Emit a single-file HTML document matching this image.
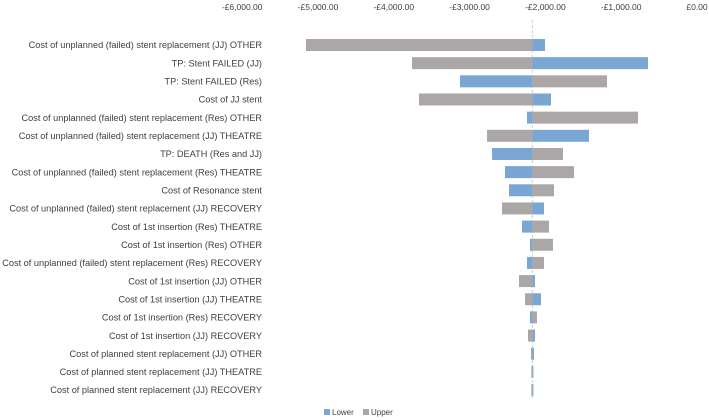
<!DOCTYPE html>
<html><head><meta charset="utf-8"><style>
body{margin:0;background:#fff;font-family:"Liberation Sans",sans-serif;}
svg{display:block}
text{font-family:"Liberation Sans",sans-serif;fill:#404040}
</style></head><body>
<svg id="chart" width="709" height="420" viewBox="0 0 709 420"></svg>
<script>
const categories=["Cost of unplanned (failed) stent replacement (JJ) OTHER","TP: Stent FAILED (JJ)","TP: Stent FAILED (Res)","Cost of JJ stent","Cost of unplanned (failed) stent replacement (Res) OTHER","Cost of unplanned (failed) stent replacement (JJ) THEATRE","TP: DEATH (Res and JJ)","Cost of unplanned (failed) stent replacement (Res) THEATRE","Cost of Resonance stent","Cost of unplanned (failed) stent replacement (JJ) RECOVERY","Cost of 1st insertion (Res) THEATRE","Cost of 1st insertion (Res) OTHER","Cost of unplanned (failed) stent replacement (Res) RECOVERY","Cost of 1st insertion (JJ) OTHER","Cost of 1st insertion (JJ) THEATRE","Cost of 1st insertion (Res) RECOVERY","Cost of 1st insertion (JJ) RECOVERY","Cost of planned stent replacement (JJ) OTHER","Cost of planned stent replacement (JJ) THEATRE","Cost of planned stent replacement (JJ) RECOVERY"];
const lowerValues=[-2005,-646,-3127,-1926,-2243,-1425,-2704,-2533,-2480,-2018,-2309,-2203,-2243,-2137,-2058,-2203,-2137,-2150,-2160,-2160];
const upperValues=[-5158,-3760,-1187,-3668,-778,-2770,-1768,-1623,-1887,-2573,-1953,-1900,-2018,-2348,-2269,-2111,-2230,-2190,-2185,-2185];
const baseValue=-2172;
const tickValues=[-6000,-5000,-4000,-3000,-2000,-1000,0];
const tickLabels=["-£6,000.00","-£5,000.00","-£4,000.00","-£3,000.00","-£2,000.00","-£1,000.00","£0.00"];

const svg=document.getElementById('chart');
const NS='http://www.w3.org/2000/svg';
const x=v=>697+v*0.0758;
const y=i=>45+i*18.16;
function mk(t,a){const e=document.createElementNS(NS,t);for(const k in a)e.setAttribute(k,a[k]);svg.appendChild(e);return e;}
tickValues.forEach((v,i)=>{
 const t=mk('text',{x:x(v),y:10,'font-size':'8.5','text-anchor':'middle'});
 t.textContent=tickLabels[i];
 
 
});
const bl=mk('line',{x1:x(baseValue),x2:x(baseValue),y1:20,y2:400,stroke:'#ccc','stroke-width':1,'stroke-dasharray':'3,2'});


categories.forEach((c,i)=>{
 const cy=y(i);
 const t=mk('text',{x:262,y:cy+3.2,'font-size':'9.2','text-anchor':'end'});
 t.textContent=c;
 
 
 [[upperValues[i],'#aba7a7','bar-upper'],[lowerValues[i],'#7aa6d3','bar-lower']].forEach(([v,col,nm])=>{
  const a=Math.min(x(v),x(baseValue)),w=Math.max(Math.abs(x(v)-x(baseValue)),1);
  const r=mk('rect',{x:a,y:cy-6,width:w,height:12,fill:col});
  
  
 });
});
const l1=mk('rect',{x:324,y:409,width:6,height:6,fill:'#7aa6d3'});


const lt1=mk('text',{x:332,y:415,'font-size':'8'});lt1.textContent='Lower';


const l2=mk('rect',{x:363,y:409,width:6,height:6,fill:'#aba7a7'});


const lt2=mk('text',{x:371,y:415,'font-size':'8'});lt2.textContent='Upper';


</script>
</body></html>
